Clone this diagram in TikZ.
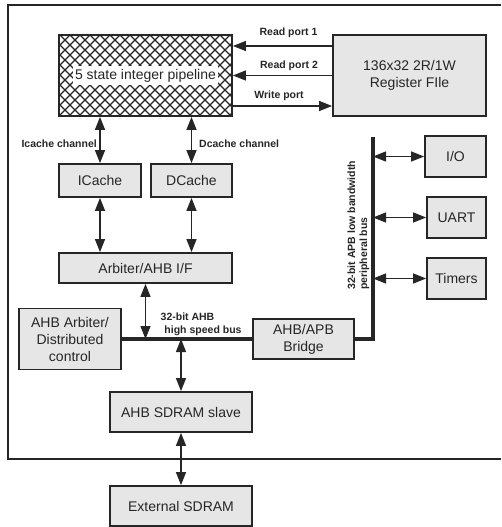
\documentclass[tikz,border=0pt]{standalone}
\usepackage{fontspec}
\setmainfont{Liberation Sans}
\usetikzlibrary{arrows.meta}
\definecolor{boxfill}{HTML}{E6E6E6}
\definecolor{ink}{HTML}{262626}
\begin{document}
\begin{tikzpicture}[x=1pt,y=-1pt,
  >={Triangle[length=13pt,width=10pt]},
  box/.style={draw=ink, line width=1.8pt, fill=boxfill, inner sep=0pt, align=center,
    font=\fontsize{14}{17}\selectfont, text=ink},
  conn/.style={draw=ink, line width=1.3pt},
  bus/.style={draw=ink, line width=3.5pt, line join=miter},
  lbl/.style={font=\bfseries\fontsize{10.5}{12}\selectfont, text=ink, inner sep=0pt},
  frame/.style={draw=ink, line width=1.8pt},
  hatch/.style={draw=ink, line width=1.2pt}]
\useasboundingbox (0,0) rectangle (501,527);

% outer frame (open on the right)
\draw[frame] (501,5) -- (8,5) -- (8,459) -- (501,459);

% pipeline box with cross hatch
\node[draw=ink, line width=1.8pt, minimum width=173pt, minimum height=81pt, inner sep=0pt] (pipe) at (145.5,75.5) {};
\begin{scope}
  \clip (59,35) rectangle (232,116);
  \foreach \k in {-30,-20,...,240} {
    \draw[hatch] (\k,35) -- ++(81,81);
  }
  \foreach \k in {60,70,...,330} {
    \draw[hatch] (\k,35) -- ++(-81,81);
  }
\end{scope}
\draw[draw=ink, line width=1.8pt] (59,35) rectangle (232,116);
\node[fill=white, inner xsep=2.5pt, inner ysep=2.5pt, font=\fontsize{14}{17}\selectfont, text=ink] (pipetext) at (pipe.center) {5 state integer pipeline};

% boxes
\node[box, minimum width=153pt, minimum height=81pt] (reg) at (409.5,75.5) {136x32 2R/1W\\Register FIle};
\node[box, minimum width=82pt, minimum height=33pt] (icache) at (100,180.5) {ICache};
\node[box, minimum width=81pt, minimum height=33pt] (dcache) at (191.5,180.5) {DCache};
\node[box, minimum width=173pt, minimum height=30pt] (arb) at (145.5,268) {Arbiter/AHB I/F};
\node[box, minimum width=102pt, minimum height=61pt] (ahbarb) at (70,339) {AHB Arbiter/\\Distributed\\control};
\node[box, minimum width=101pt, minimum height=40pt] (bridge) at (303.5,339) {AHB/APB\\Bridge};
\node[box, minimum width=142pt, minimum height=40pt] (slave) at (181,412) {AHB SDRAM slave};
\node[box, minimum width=142pt, minimum height=40pt] (ext) at (181,506) {External SDRAM};
\node[box, minimum width=61pt, minimum height=41pt] (io) at (455.5,156.5) {I/O};
\node[box, minimum width=59pt, minimum height=41pt] (uart) at (456.5,217.5) {UART};
\node[box, minimum width=59pt, minimum height=41pt] (timers) at (456.5,278.5) {Timers};

% bus coordinates
\coordinate (busY) at (0,339);
\coordinate (apbC) at (373,339);
\coordinate (apbT) at (373,137);

% register ports
\draw[conn,->] ([yshift=29.5pt]reg.west) -- ([yshift=29.5pt]reg.west -| pipe.east);
\draw[conn,->] (reg.west) -- (reg.west -| pipe.east);
\draw[conn,->] ([yshift=-30.5pt]pipe.east) -- ([yshift=-30.5pt]pipe.east -| reg.west);
\node[lbl] (rp1) at (288.5,33) {Read port 1};
\node[lbl] (rp2) at (289,66) {Read port 2};
\node[lbl] (wp) at (279,96) {Write port};

% cache channels
\draw[conn,<->] (pipe.south -| icache.north) -- (icache.north);
\draw[conn,<->] (pipe.south -| dcache.north) -- (dcache.north);
\node[lbl, anchor=east] (icl) at (97,144) {Icache channel};
\node[lbl, anchor=west] (dcl) at (199,144) {Dcache channel};

\draw[conn,<->] (icache.south) -- (icache.south |- arb.north);
\draw[conn,<->] (dcache.south) -- (dcache.south |- arb.north);

% AHB bus
\draw[conn,<->] (arb.south) -- (arb.south |- busY);
\draw[conn,<->] (slave.north |- busY) -- (slave.north);
\draw[conn,<->] (slave.south) -- (ext.north);
\draw[bus] (ahbarb.east) -- (bridge.west);
\draw[bus] (bridge.east) -- (apbC) -- (apbT);
\node[lbl] (ahb1) at (187.5,317) {32-bit AHB};
\node[lbl] (ahb2) at (203,331) {high speed bus};

% APB peripherals
\draw[conn,<->] (io.west -| apbT) -- (io.west);
\draw[conn,<->] (uart.west -| apbT) -- (uart.west);
\draw[conn,<->] (timers.west -| apbT) -- (timers.west);
\node[lbl, rotate=90, align=left, anchor=south west] (apbl) at (369.5,290) {32-bit APB low bandwidth\\peripheral bus};
\end{tikzpicture}
\end{document}
